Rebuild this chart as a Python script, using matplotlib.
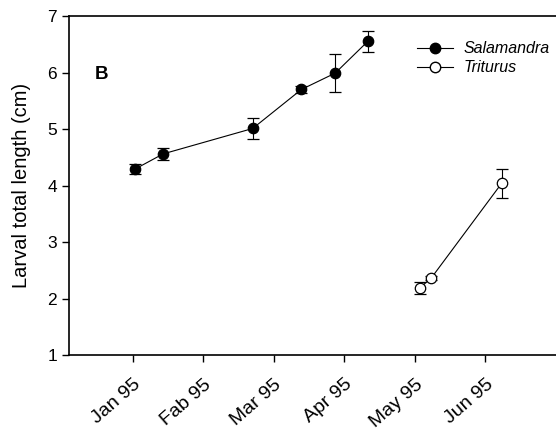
import matplotlib
matplotlib.use("Agg")
import matplotlib.pyplot as plt
import matplotlib.transforms as mtransforms
from matplotlib.lines import Line2D

plt.rcParams['font.family'] = ['Liberation Sans', 'DejaVu Sans']

# month index: 0 = Jan 95 ... 5 = Jun 95
month_labels = ["Jan 95", "Fab 95", "Mar 95", "Apr 95", "May 95", "Jun 95"]

sal_x = [0.03, 0.43, 1.70, 2.39, 2.87, 3.33]
sal_y = [4.29, 4.56, 5.01, 5.70, 5.99, 6.55]
sal_err = [0.09, 0.11, 0.19, 0.07, 0.33, 0.19]

tri_x = [4.07, 4.23, 5.23]
tri_y = [2.19, 2.36, 4.04]
tri_err = [0.11, 0.03, 0.26]

fig = plt.figure(figsize=(5.56, 4.34), dpi=100)
ax = fig.add_axes([0.124, 0.182, 0.876, 0.781])

common = dict(color="black", lw=0.8, capsize=4.5, elinewidth=0.8,
              capthick=0.8, markersize=7.5, markeredgecolor="black",
              markeredgewidth=0.9)
ax.errorbar(sal_x, sal_y, yerr=sal_err, fmt="-o", markerfacecolor="black",
            **common)
ax.errorbar(tri_x, tri_y, yerr=tri_err, fmt="-o", markerfacecolor="white",
            **common)

ax.set_xlim(-0.905, 6.0)
ax.set_ylim(1, 7)
ax.set_xticks(range(len(month_labels)))
ax.set_xticklabels(month_labels, rotation=41, ha="right", va="top",
                   rotation_mode="anchor", fontsize=14)
shift = mtransforms.ScaledTranslation(-8 / 72, 0, fig.dpi_scale_trans)
for lbl in ax.get_xticklabels():
    lbl.set_transform(lbl.get_transform() + shift)
ax.set_yticks(range(1, 8))
ax.tick_params(axis="y", labelsize=12.5, direction="out", length=5, width=1)
ax.tick_params(axis="x", direction="out", length=5, width=1, pad=10)
ax.set_ylabel("Larval total length (cm)", fontsize=14.5, labelpad=12)

ax.spines["right"].set_visible(False)
for s in ["left", "bottom", "top"]:
    ax.spines[s].set_linewidth(1.2)

ax.text(-0.54, 5.97, "B", fontsize=13.5, fontweight="bold", va="center")

handles = [
    Line2D([], [], color="black", lw=0.8, marker="o", markersize=7.5,
           markerfacecolor="black", markeredgecolor="black"),
    Line2D([], [], color="black", lw=0.8, marker="o", markersize=7.5,
           markerfacecolor="white", markeredgecolor="black"),
]
ax.legend(handles, ["Salamandra", "Triturus"], loc="upper left",
          bbox_to_anchor=(0.714, 0.925), frameon=False,
          prop={"style": "italic", "size": 11.5}, handlelength=2.25,
          handletextpad=0.7, labelspacing=0.25, borderaxespad=0,
          borderpad=0)

fig.savefig("out.png", dpi=100)
